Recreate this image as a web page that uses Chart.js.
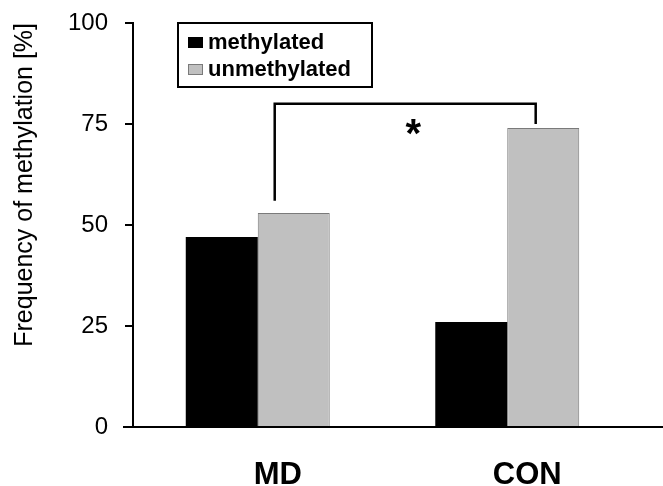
<!DOCTYPE html>
<html>
<head>
<meta charset="utf-8">
<script src="https://cdn.jsdelivr.net/npm/chart.js@4"></script>
<style>
  body { margin: 0; background: #fff; }
  #wrap { width: 663px; height: 486px; }
</style>
</head>
<body>
<div id="wrap"><canvas id="methylation-chart" width="663" height="486"></canvas></div>
<script>
// data
const CATEGORIES = ['MD', 'CON'];
const METHYLATED = [47, 26];
const UNMETHYLATED = [53, 74];
const Y_TICKS = [0, 25, 50, 75, 100];

// significance bracket between MD and CON (values in %)
const BRACKET_TOP = 80;
const BRACKET_LEFT_END = 56;
const BRACKET_RIGHT_END = 75;
const BRACKET_MARK = '*';

const FONT = "'Liberation Sans', Arial, sans-serif";

// draws the x axis line on to the right edge, like the original
const axisExtend = {
    id: 'axisExtend',
    afterDraw(chart) {
        const ctx = chart.ctx;
        const a = chart.chartArea;
        ctx.save();
        ctx.strokeStyle = '#000';
        ctx.lineWidth = 2;
        ctx.beginPath();
        ctx.moveTo(a.left - 10, a.bottom);
        ctx.lineTo(chart.width, a.bottom);
        ctx.stroke();
        ctx.restore();
    }
};

// boxed legend inside the plot
const boxLegend = {
    id: 'boxLegend',
    afterDraw(chart) {
        const ctx = chart.ctx;
        const a = chart.chartArea;
        const x0 = a.left + 45, y0 = a.top;
        ctx.save();
        ctx.strokeStyle = '#000';
        ctx.lineWidth = 2;
        ctx.strokeRect(x0, y0, 194, 64);
        chart.data.datasets.forEach(function (ds, i) {
            const cy = y0 + 20 + i * 27;
            ctx.fillStyle = ds.backgroundColor;
            ctx.fillRect(x0 + 10, cy - 6, 15, 11);
            ctx.strokeStyle = ds.borderColor;
            ctx.lineWidth = 1;
            ctx.strokeRect(x0 + 10.5, cy - 5.5, 14, 10);
            ctx.fillStyle = '#000';
            ctx.font = 'bold 22px ' + FONT;
            ctx.textBaseline = 'middle';
            ctx.textAlign = 'left';
            ctx.fillText(ds.label, x0 + 30, cy);
        });
        ctx.restore();
    }
};

// significance bracket + star
const bracket = {
    id: 'bracket',
    afterDraw(chart) {
        const ctx = chart.ctx;
        const xs = chart.scales.x, ys = chart.scales.y;
        const cw = xs.getPixelForValue(1) - xs.getPixelForValue(0);
        const xl = xs.getPixelForValue(0) + cw * 0.068;
        const xr = xs.getPixelForValue(1) + cw * 0.114;
        const yt = ys.getPixelForValue(BRACKET_TOP);
        ctx.save();
        ctx.strokeStyle = '#000';
        ctx.lineWidth = 2.5;
        ctx.beginPath();
        ctx.moveTo(xl, ys.getPixelForValue(BRACKET_LEFT_END));
        ctx.lineTo(xl, yt);
        ctx.lineTo(xr, yt);
        ctx.lineTo(xr, ys.getPixelForValue(BRACKET_RIGHT_END));
        ctx.stroke();
        ctx.fillStyle = '#000';
        ctx.font = 'bold 40px ' + FONT;
        ctx.textAlign = 'center';
        ctx.textBaseline = 'alphabetic';
        ctx.fillText(BRACKET_MARK, (xl + xr) / 2 + 8, yt + 43);
        ctx.restore();
    }
};

const data = {
    labels: CATEGORIES,
    datasets: [{
        label: 'methylated',
        data: METHYLATED,
        backgroundColor: '#000000',
        borderColor: '#000000',
        borderWidth: 0
    }, {
        label: 'unmethylated',
        data: UNMETHYLATED,
        backgroundColor: '#c0c0c0',
        borderColor: '#7a7a7a',
        borderWidth: 1
    }]
};

const config = {
    type: 'bar',
    data: data,
    options: {
        responsive: false,
        animation: false,
        layout: { padding: { top: 23, right: 31, left: 0, bottom: 0 } },
        datasets: { bar: { categoryPercentage: 0.577, barPercentage: 1.0 } },
        plugins: {
            legend: { display: false },
            tooltip: { enabled: false }
        },
        scales: {
            x: {
                afterFit(scale) { scale.height = 59; },
                grid: { display: false, drawTicks: false },
                border: { display: false },
                ticks: {
                    color: '#000',
                    padding: 30,
                    labelOffset: 20,
                    font: { family: FONT, size: 31, weight: 'bold' }
                }
            },
            y: {
                min: 0,
                max: 100,
                afterFit(scale) {
                    scale.width = 133;
                    scale.paddingTop = 0;
                    scale.paddingBottom = 0;
                },
                afterBuildTicks(scale) {
                    scale.ticks = Y_TICKS.map(v => ({ value: v }));
                },
                grid: {
                    drawOnChartArea: false,
                    drawTicks: true,
                    tickLength: 8,
                    color: '#000',
                    lineWidth: 2
                },
                border: { display: true, color: '#000', width: 2 },
                ticks: {
                    color: '#000',
                    padding: 17,
                    font: { family: FONT, size: 24 }
                },
                title: {
                    display: true,
                    text: 'Frequency of methylation [%]',
                    color: '#000',
                    align: 'end',
                    padding: { top: 10, bottom: 0 },
                    font: { family: FONT, size: 25 }
                }
            }
        }
    },
    plugins: [axisExtend, boxLegend, bracket]
};

const ctx = document.getElementById('methylation-chart').getContext('2d');
const methylationChart = new Chart(ctx, config);
</script>
</body>
</html>
